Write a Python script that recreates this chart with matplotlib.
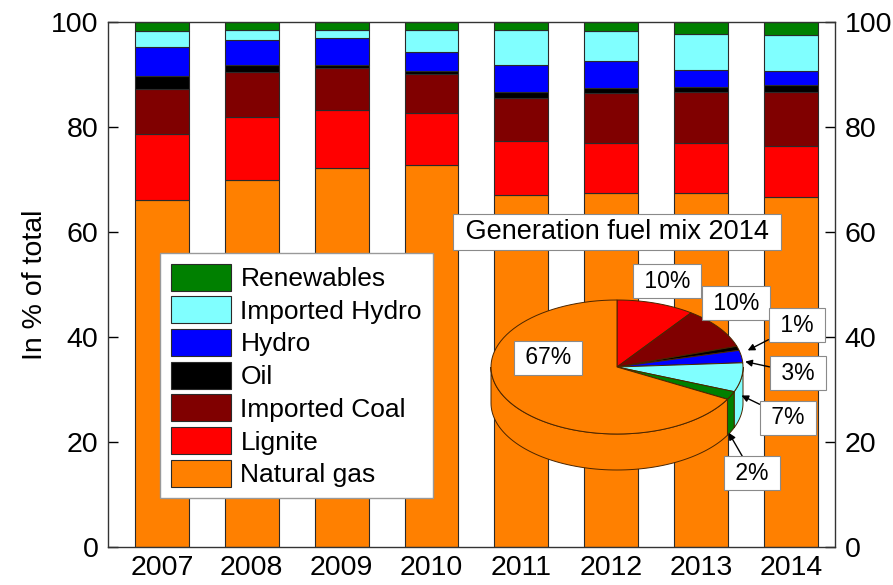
import numpy as np
import matplotlib
matplotlib.use('Agg')
import matplotlib.pyplot as plt
from matplotlib.patches import Polygon

plt.rcParams['font.family'] = ['Liberation Sans', 'DejaVu Sans']

years = ['2007', '2008', '2009', '2010', '2011', '2012', '2013', '2014']

# shares of generation in %, stacked bottom-up
natural_gas    = [66.1, 70.0, 72.2, 72.7, 67.0, 67.5, 67.4, 66.7]
lignite        = [12.5, 12.0, 11.0,  9.9, 10.3,  9.5,  9.6,  9.7]
imported_coal  = [ 8.6,  8.5,  8.1,  7.4,  8.2,  9.4,  9.6, 10.3]
oil            = [ 2.6,  1.3,  0.6,  0.7,  1.2,  1.1,  1.1,  1.3]
hydro          = [ 5.5,  4.8,  5.1,  3.5,  5.2,  5.0,  3.2,  2.7]
imported_hydro = [ 2.9,  1.8,  1.5,  4.3,  6.5,  5.8,  6.9,  6.8]
renewables     = [ 1.8,  1.6,  1.5,  1.5,  1.6,  1.7,  2.2,  2.5]

series = [natural_gas, lignite, imported_coal, oil, hydro, imported_hydro, renewables]
names = ['Natural gas', 'Lignite', 'Imported Coal', 'Oil', 'Hydro',
         'Imported Hydro', 'Renewables']
colors = ['#ff8000', '#ff0000', '#800000', '#000000', '#0000ff', '#80ffff', '#008000']

# 2014 mix for the pie, clockwise from 12 o'clock
pie_names = ['Lignite', 'Imported Coal', 'Oil', 'Hydro', 'Imported Hydro',
             'Renewables', 'Natural gas']
pie_share = [10, 10, 1, 3, 7, 2, 67]

W, H = 893, 585
fig = plt.figure(figsize=(W / 100, H / 100), dpi=100)
ax = fig.add_axes([108 / W, 1 - 547 / H, 727 / W, 525 / H])

x = np.arange(len(years))
bottom = np.zeros(len(years))
for vals, c, name in zip(series, colors, names):
    ax.bar(x, vals, 0.6, bottom=bottom, color=c, edgecolor='#2a2a2a',
           linewidth=0.8, label=name)
    bottom += np.array(vals)

ax.set_xlim(-0.6, 7.49)
ax.set_ylim(0, 100)
ax.set_xticks(x)
ax.set_xticklabels(years)
ax.set_yticks([0, 20, 40, 60, 80, 100])
ax.tick_params(axis='y', direction='in', length=7, width=1, right=True,
               labelright=True, pad=7, labelsize=20.5)
ax.tick_params(axis='x', length=0, pad=6, labelsize=20.5)
for s in ax.spines.values():
    s.set_linewidth(1)
    s.set_color('#333333')
ax.set_ylabel('In % of total', fontsize=20.5, labelpad=2)

handles, labels = ax.get_legend_handles_labels()
leg = ax.legend(handles[::-1], labels[::-1], loc='upper left',
                bbox_to_anchor=(160 / W, 1 - 253 / H), bbox_transform=fig.transFigure,
                borderaxespad=0, fontsize=19, handlelength=2.3, handleheight=1.2,
                labelspacing=0.2, handletextpad=0.35, borderpad=0.4,
                fancybox=False, framealpha=1)
leg.get_frame().set_edgecolor('#999999')
leg.get_frame().set_linewidth(1)

# overlay in pixel units for the 3-D pie
ov = fig.add_axes([0, 0, 1, 1])
ov.set_xlim(0, W)
ov.set_ylim(H, 0)
ov.axis('off')

cx, cy, rx, ry, depth = 617, 367, 126, 67, 36
edge = '#4a2500'
share = np.array(pie_share, dtype=float)
ends = 90 - 360 * np.cumsum(share) / share.sum()
starts = np.concatenate([[90], ends[:-1]])
pie_colors = [colors[names.index(n)] for n in pie_names]


def arc(t0, t1, n=80):
    t = np.radians(np.linspace(t0, t1, n))
    return cx + rx * np.cos(t), cy - ry * np.sin(t)


# side walls on the front half
for t0, t1, c in zip(starts, ends, pie_colors):
    lo, hi = max(t1, -180), min(t0, 0)
    if hi <= lo:
        continue
    xs, ys = arc(hi, lo)
    pts = np.column_stack([np.concatenate([xs, xs[::-1]]),
                           np.concatenate([ys, ys[::-1] + depth])])
    ov.add_patch(Polygon(pts, closed=True, fc=c, ec=edge, lw=0.7, zorder=2))

# top faces
for t0, t1, c in zip(starts, ends, pie_colors):
    xs, ys = arc(t0, t1)
    pts = np.column_stack([np.concatenate([[cx], xs]), np.concatenate([[cy], ys])])
    ov.add_patch(Polygon(pts, closed=True, fc=c, ec=edge, lw=0.7, zorder=3))

box = dict(boxstyle='square,pad=0.22', fc='white', ec='#8a8a8a', lw=0.8)
label_pos = [(667, 281), (736, 303), (797, 325), (798, 373), (788, 418),
             (752, 473), (548, 358)]
# arrow tip: (radius factor, fraction of wall depth) or None
tips = [None, None, (1.08, 0.1), (1.03, 0.15), (1.0, 0.5), (0.98, 1.05), None]
for s, t0, t1, pos, tip in zip(pie_share, starts, ends, label_pos, tips):
    txt = f' {s}% '
    if tip is None:
        ov.text(pos[0], pos[1], txt, fontsize=16.5, ha='center', va='center',
                bbox=box, zorder=5)
        continue
    mid = np.radians((t0 + t1) / 2)
    head = (cx + tip[0] * rx * np.cos(mid), cy - tip[0] * ry * np.sin(mid) + tip[1] * depth)
    ov.annotate(txt, xy=head, xytext=pos, fontsize=16.5, ha='center', va='center',
                bbox=box, zorder=5,
                arrowprops=dict(arrowstyle='-|>', color='black', lw=1.0,
                                mutation_scale=10, shrinkA=0, shrinkB=0))

ov.text(617, 232, ' Generation fuel mix 2014 ', fontsize=19.5, ha='center',
        va='center', zorder=5,
        bbox=dict(boxstyle='square,pad=0.18', fc='white', ec='#8a8a8a', lw=0.8))

fig.savefig('out.png', dpi=100)
